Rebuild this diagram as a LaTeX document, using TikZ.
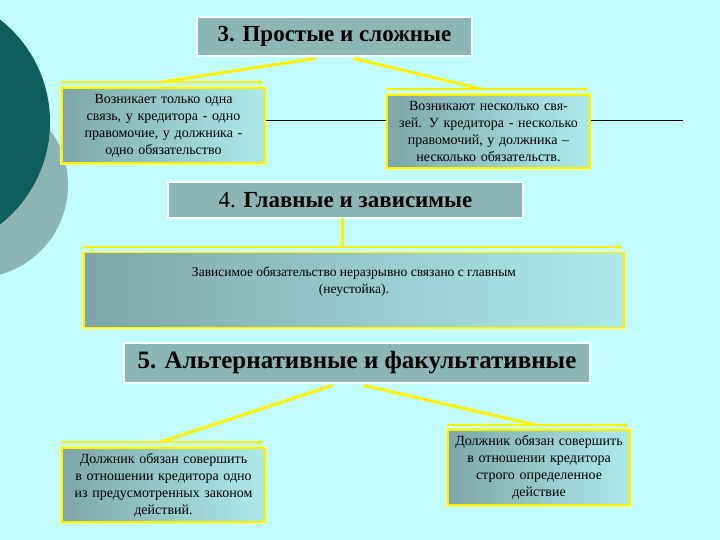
\documentclass[tikz,border=0pt]{standalone}
\usepackage{fontspec}
\setmainfont{Liberation Serif}
\usetikzlibrary{arrows.meta, positioning, calc}
\definecolor{bgcyan}{HTML}{C2FCFC}
\definecolor{darkteal}{HTML}{0E5E5E}
\definecolor{greyteal}{HTML}{8DB5B5}
\definecolor{titlefill}{HTML}{8CB6B6}
\definecolor{boxleft}{HTML}{7EA6AA}
\definecolor{boxright}{HTML}{AEEAEA}
\definecolor{glowyellow}{HTML}{F2FF80}

\tikzset{
  titlebox/.style={draw=white!85!bgcyan, line width=1.2pt, fill=titlefill,
    inner sep=0pt, font=\bfseries\fontsize{23}{26}\selectfont},
  notebox/.style={draw=yellow, line width=1.6pt, left color=boxleft, right color=boxright,
    inner sep=1pt, align=center, font=\fontsize{14}{17}\selectfont,
    preaction={draw=glowyellow, line width=4pt}},
  lid/.style={draw=yellow, line width=2.2pt, -{Latex[length=5pt,width=6pt]}},
  link/.style={draw=yellow, line width=3pt, line cap=round},
  sideline/.style={draw=black, line width=0.6pt}
}

\begin{document}
\begin{tikzpicture}[x=1pt, y=-1pt]
    \useasboundingbox (0,0) rectangle (720,540);
    \fill[bgcyan] (0,0) rectangle (720,540);
    % circles on the left edge
    \begin{scope}
        \clip (0,0) rectangle (720,540);
        \fill[greyteal] (-25,185) circle[radius=93];
        \fill[darkteal] (-80,122) circle[radius=130];
    \end{scope}

    % 3. simple and complex
    \node[titlebox, minimum width=275pt, minimum height=39pt] (t3) at (334.5,36.5) {3. Простые и сложные};
    \node[notebox, minimum width=203pt, minimum height=75pt, text width=200pt] (simple) at (163.5,125.5)
        {Возникает только одна\\связь, у кредитора - одно\\правомочие, у должника -\\одно обязательство};
    \node[notebox, minimum width=203pt, minimum height=73pt, text width=200pt] (complex) at (488.5,131.5)
        {Возникают несколько свя-\\зей. У кредитора - несколько\\правомочий, у должника –\\несколько обязательств.};
    \draw[lid] ($(simple.north west)+(0,-5)$) -- ($(simple.north east)+(-2,-5)$);
    \draw[lid] ($(complex.north west)+(0,-5)$) -- ($(complex.north east)+(-2,-5)$);
    \draw[link] ($(t3.south)+(-20,2)$) -- ($(simple.north)+(-3,-5)$);
    \draw[link] ($(t3.south)+(20,2)$) -- ($(complex.north)+(-6,-5)$);
    \coordinate (edge) at (683,120);
    \draw[sideline] (simple.east |- 0,120) -- (complex.west |- 0,120);
    \draw[sideline] (complex.east |- 0,120) -- (edge);

    % 4. main and dependent
    \node[titlebox, minimum width=355pt, minimum height=36pt] (t4) at (345.5,200)
        {\mdseries 4. \bfseries Главные и зависимые};
    \node[notebox, minimum width=540pt, minimum height=75pt] (dependent) at (354,290) {};
    \node[font=\fontsize{13.5}{17}\selectfont, align=center] (deptext) at (354,282)
        {Зависимое обязательство неразрывно связано с главным\\(неустойка).};
    \draw[lid] ($(dependent.north west)+(0,-5)$) -- ($(dependent.north east)+(-2,-5)$);
    \draw[link] (t4.south -| 342,0) -- ($(dependent.north -| 342,0)+(0,-5)$);

    % 5. alternative and optional
    \node[titlebox, minimum width=466pt, minimum height=40pt, font=\bfseries\fontsize{25}{28}\selectfont] (t5) at (357,363)
        {5. Альтернативные и факультативные};
    \node[notebox, minimum width=203pt, minimum height=74pt, text width=200pt] (alternative) at (163.5,485)
        {Должник обязан совершить\\в отношении кредитора одно\\из предусмотренных законом\\действий.};
    \node[notebox, minimum width=182pt, minimum height=75pt, text width=180pt] (optional) at (539,467.5)
        {Должник обязан совершить\\в отношении кредитора\\строго определенное\\действие};
    \draw[lid] ($(alternative.north west)+(0,-5)$) -- ($(alternative.north east)+(-2,-5)$);
    \draw[lid] ($(optional.north west)+(0,-4)$) -- ($(optional.north east)+(-2,-4)$);
    \draw[link] ($(t5.south)+(-25,2)$) -- ($(alternative.north)+(-3,-5)$);
    \draw[link] ($(t5.south)+(8,2)$) -- ($(optional.north)+(-2,-4)$);
\end{tikzpicture}
\end{document}
